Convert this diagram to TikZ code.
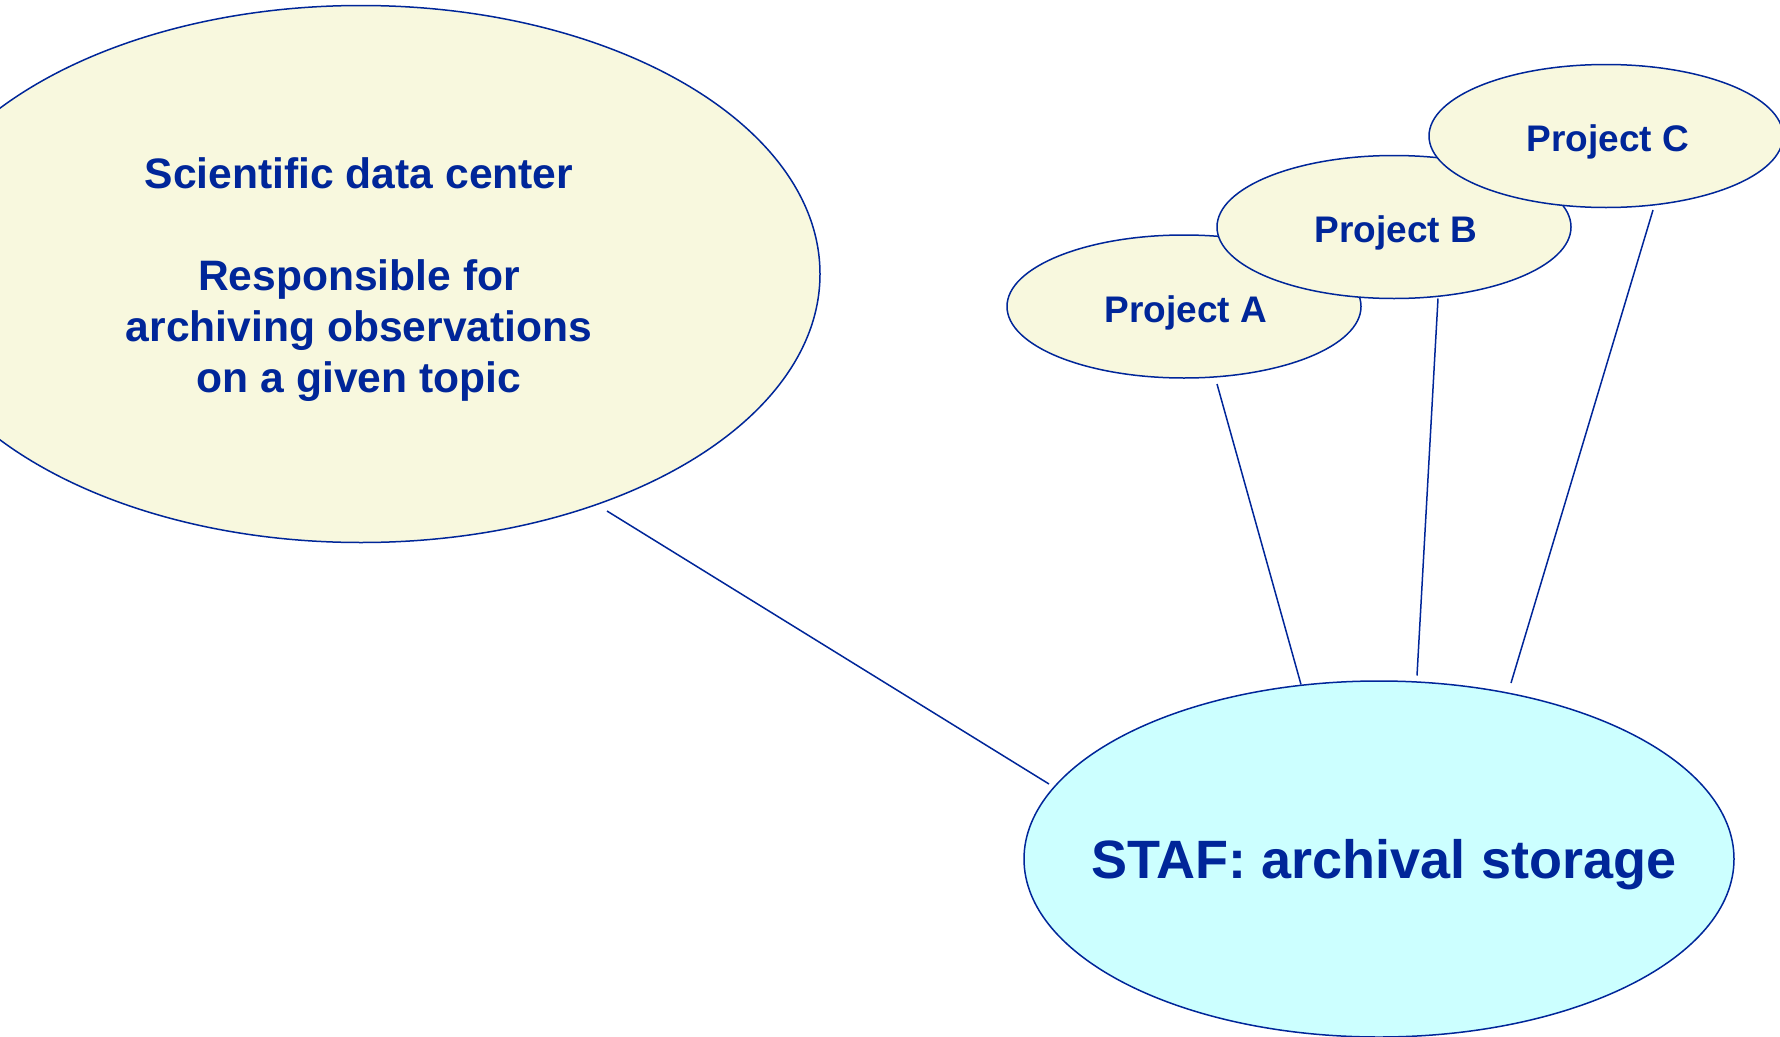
\documentclass[tikz,border=0pt]{standalone}
\usepackage{fontspec}
\setmainfont{Liberation Sans}
\usetikzlibrary{shapes.geometric}
\definecolor{inkblue}{RGB}{0,38,153}
\definecolor{paleyellow}{RGB}{248,248,222}
\definecolor{palecyan}{RGB}{204,255,255}
\tikzset{
  bubble/.style={ellipse, draw=inkblue, line width=1.5pt, inner sep=0pt},
  caption/.style={text=inkblue, font=\bfseries, align=center, inner sep=0pt, yshift=-6pt},
  projbubble/.style={bubble, fill=paleyellow, minimum width=354pt, minimum height=143pt},
  projtext/.style={caption, xshift=2pt, font=\fontsize{37}{44}\selectfont\bfseries},
  link/.style={draw=inkblue, line width=1.5pt}
}
\begin{document}
\begin{tikzpicture}[x=1pt,y=-1pt]
\useasboundingbox (0,0) rectangle (1780,1036);
\clip (0,0) rectangle (1780,1036);
\fill[white] (0,0) rectangle (1780,1036);

% data centre bubble
\node[bubble, fill=paleyellow, minimum width=918pt, minimum height=537pt] (sdc) at (361,274) {};
\node[caption, xshift=-2pt, font=\fontsize{42.6}{51}\selectfont\bfseries] (sdc-text) at (sdc)
  {Scientific data center\\[51pt]Responsible for\\archiving observations\\on a given topic};

% connector end points
\coordinate (sdc-out) at (607,511);
\coordinate (staf-inL) at (1049,784);
\coordinate (pa-out) at (1217,384);
\coordinate (staf-inA) at (1301,684.5);
\coordinate (pb-out) at (1438,298.5);
\coordinate (staf-inB) at (1417,675.5);
\coordinate (pc-out) at (1653,210);
\coordinate (staf-inC) at (1511,683);

\draw[link] (sdc-out) -- (staf-inL);
\draw[link] (pa-out) -- (staf-inA);
\draw[link] (pb-out) -- (staf-inB);
\draw[link] (pc-out) -- (staf-inC);

% project bubbles, stacked left to right
\node[projbubble] (pa) at (1184,306.5) {};
\node[projtext] (pa-text) at (pa) {Project A};
\node[projbubble] (pb) at (1394,227) {};
\node[projtext] (pb-text) at (pb) {Project B};
\node[projbubble] (pc) at (1606,136) {};
\node[projtext] (pc-text) at (pc) {Project C};

% archival storage bubble
\node[bubble, fill=palecyan, minimum width=710pt, minimum height=356pt] (staf) at (1379,859) {};
\node[caption, xshift=5pt, font=\fontsize{54}{60}\selectfont\bfseries] (staf-text) at (staf)
  {STAF: archival storage};
\end{tikzpicture}
\end{document}
